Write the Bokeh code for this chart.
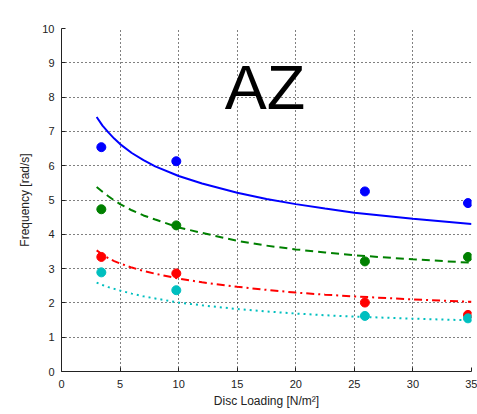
from bokeh.plotting import figure
from bokeh.models import Label, FixedTicker, Range1d
from bokeh.embed import file_html
from bokeh.resources import INLINE

# measured points
disc_loading = [3.4, 9.8, 25.9, 34.7]
freq_blue = [6.54, 6.13, 5.25, 4.91]
freq_green = [4.73, 4.26, 3.21, 3.34]
freq_red = [3.34, 2.86, 2.01, 1.65]
freq_cyan = [2.89, 2.37, 1.62, 1.55]

# fitted curves
fit_x = [3, 3.5, 4, 4.5, 5, 6, 7, 8, 10, 12, 15, 17.5, 20, 22.5, 25, 30, 35]
fit_blue = [7.42, 7.17, 6.97, 6.79, 6.63, 6.37, 6.16, 5.98, 5.70, 5.48, 5.21, 5.03, 4.88, 4.75, 4.63, 4.45, 4.30]
fit_green = [5.38, 5.24, 5.11, 4.99, 4.88, 4.70, 4.55, 4.43, 4.20, 4.04, 3.81, 3.67, 3.56, 3.47, 3.39, 3.27, 3.17]
fit_red = [3.53, 3.41, 3.30, 3.22, 3.15, 3.03, 2.93, 2.85, 2.71, 2.60, 2.47, 2.38, 2.30, 2.24, 2.19, 2.10, 2.03]
fit_cyan = [2.59, 2.52, 2.46, 2.41, 2.36, 2.27, 2.19, 2.13, 2.01, 1.93, 1.82, 1.75, 1.69, 1.64, 1.60, 1.54, 1.49]

x_ticks = [0, 5, 10, 15, 20, 25, 30, 35]
y_ticks = [0, 1, 2, 3, 4, 5, 6, 7, 8, 9, 10]

FONT = "Liberation Sans"

p = figure(width=477, height=414, output_backend="svg", toolbar_location=None,
           x_range=Range1d(0, 35), y_range=Range1d(0, 10),
           min_border_left=61, min_border_right=6, min_border_top=28, min_border_bottom=43)
p.outline_line_color = None
p.background_fill_color = "white"
p.border_fill_color = "white"

for ax, ticks in ((p.xaxis, x_ticks), (p.yaxis, y_ticks)):
    ax.ticker = FixedTicker(ticks=ticks)
    ax.major_tick_in = 4
    ax.major_tick_out = 0
    ax.minor_tick_line_color = None
    ax.axis_line_color = "#222222"
    ax.major_tick_line_color = "#222222"
    ax.major_label_text_font = FONT
    ax.major_label_text_font_size = "11px"
    ax.major_label_text_color = "#222222"
    ax.axis_label_text_font = FONT
    ax.axis_label_text_font_size = "12px"
    ax.axis_label_text_font_style = "normal"
    ax.axis_label_text_color = "#222222"

p.xaxis.axis_label = "Disc Loading [N/m\u00b2]"
p.yaxis.axis_label = "Frequency [rad/s]"
p.xaxis.major_label_standoff = 8
p.yaxis.major_label_standoff = 7
p.xaxis.axis_label_standoff = 3
p.yaxis.axis_label_standoff = 7

for g in (p.xgrid, p.ygrid):
    g.grid_line_color = "black"
    g.grid_line_dash = "1 3"
    g.grid_line_width = 1

p.line(fit_x, fit_blue, line_color="#0000ff", line_width=2)
p.line(fit_x, fit_green, line_color="#008000", line_width=2, line_dash="8 5")
p.line(fit_x, fit_red, line_color="#ff0000", line_width=2, line_dash="8 4 2 4")
p.line(fit_x, fit_cyan, line_color="#00bfbf", line_width=2, line_dash="2 4")

p.scatter(disc_loading, freq_blue, size=9, color="#0000ff")
p.scatter(disc_loading, freq_green, size=9, color="#008000")
p.scatter(disc_loading, freq_red, size=9, color="#ff0000")
p.scatter(disc_loading, freq_cyan, size=9, color="#00bfbf")

p.add_layout(Label(x=17.5, y=10, y_offset=9, text="(c)", text_align="center",
                   text_baseline="bottom", text_font=FONT, text_font_size="11px",
                   text_color="#222222"))
p.add_layout(Label(x=17.38, y=8.28, text="AZ", text_align="center",
                   text_baseline="middle", text_font=FONT, text_font_size="63px",
                   text_color="black"))

open("out.html", "w").write(file_html(p, INLINE))
